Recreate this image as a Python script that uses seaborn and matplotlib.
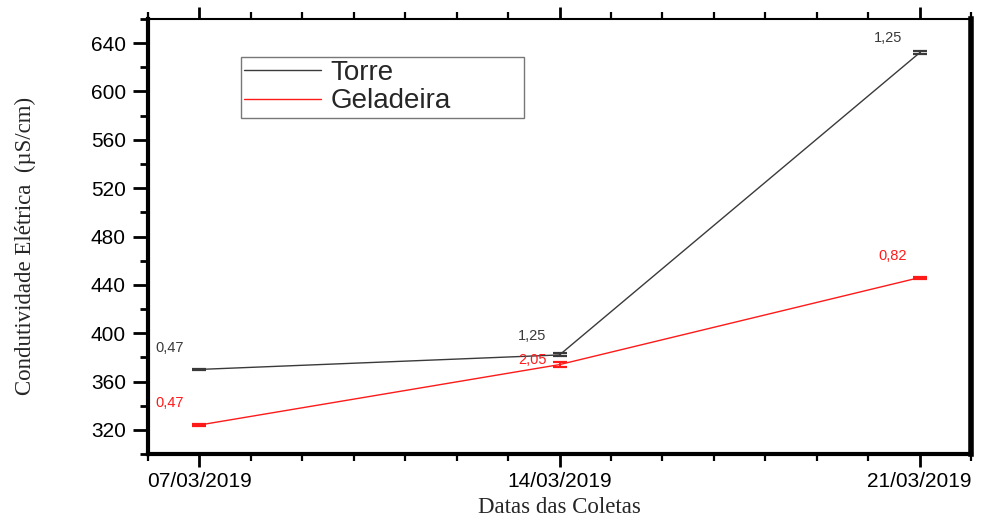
import matplotlib
matplotlib.use("Agg")
import matplotlib.pyplot as plt
import matplotlib.dates as mdates
from matplotlib.ticker import MultipleLocator
import pandas as pd
import seaborn as sns

# Sampling dates and measured electrical conductivity (µS/cm)
dates = ["07/03/2019", "14/03/2019", "21/03/2019"]
torre = [370, 382, 632]
geladeira = [324, 374, 446]
# Standard deviations shown next to each point
torre_sd = [0.47, 1.25, 1.25]
geladeira_sd = [0.47, 2.05, 0.82]
series_names = ["Torre", "Geladeira"]

x = pd.to_datetime(dates, format="%d/%m/%Y")
df = pd.DataFrame({
    "data": list(x) * 2,
    "valor": torre + geladeira,
    "sd": torre_sd + geladeira_sd,
    "serie": [series_names[0]] * 3 + [series_names[1]] * 3,
})

sns.set_style("white")
plt.rcParams["font.family"] = ["Liberation Sans", "DejaVu Sans"]

fig = plt.figure(figsize=(9.81, 5.19), dpi=100)
ax = fig.add_axes([0.1509, 0.1252, 0.8389, 0.8382])

palette = {"Torre": "#3a3a3a", "Geladeira": "#ff1a1a"}
sns.lineplot(data=df, x="data", y="valor", hue="serie", palette=palette,
             linewidth=1.0, ax=ax, legend=True)

for name in series_names:
    sub = df[df["serie"] == name]
    ax.errorbar(sub["data"], sub["valor"], yerr=sub["sd"], fmt="none",
                ecolor=palette[name], elinewidth=1.4, capsize=5, capthick=1.6)

# Value labels (standard deviation) beside each point
offsets = {
    "Torre": [(-30, 21), (-27, 19), (-31, 15)],
    "Geladeira": [(-30, 22), (-27, 5), (-27, 22)],
}
for name in series_names:
    sub = df[df["serie"] == name].reset_index(drop=True)
    for i, row in sub.iterrows():
        ax.annotate(f"{row['sd']:.2f}".replace(".", ","),
                    xy=(row["data"], row["valor"]),
                    xytext=offsets[name][i], textcoords="offset pixels",
                    ha="center", va="center", fontsize=10.5,
                    color=palette[name])

ax.set_ylim(300, 660)
ax.set_xlim(pd.Timestamp("2019-03-06"), pd.Timestamp("2019-03-22"))

ax.yaxis.set_major_locator(MultipleLocator(40))
ax.yaxis.set_minor_locator(MultipleLocator(20))
ax.set_xticks(x)
ax.xaxis.set_major_formatter(mdates.DateFormatter("%d/%m/%Y"))
ax.xaxis.set_minor_locator(mdates.DayLocator())

ax.tick_params(axis="both", which="both", direction="out", colors="black",
               labelsize=15)
ax.tick_params(axis="y", which="major", length=11, width=2, pad=5,
               left=True, right=False)
ax.tick_params(axis="y", which="minor", length=6, width=2,
               left=True, right=False)
ax.tick_params(axis="x", which="major", length=9, width=2, pad=4,
               bottom=True, top=True)
ax.tick_params(axis="x", which="minor", length=5, width=1.6,
               bottom=True, top=True)

for side, lw in [("left", 3), ("bottom", 3), ("right", 4), ("top", 1.5)]:
    ax.spines[side].set_visible(True)
    ax.spines[side].set_color("black")
    ax.spines[side].set_linewidth(lw)

ax.set_ylabel("Condutividade Elétrica  (µS/cm)", family="Liberation Serif",
              fontsize=16.5)
ax.yaxis.set_label_coords(-0.136, 0.478)
ax.set_xlabel("Datas das Coletas", family="Liberation Serif", fontsize=16.5)
ax.xaxis.set_label_coords(0.5, -0.099)

leg = ax.legend(loc="upper left", bbox_to_anchor=(0.113, 0.913, 0.344, 0.0),
                mode="expand", borderaxespad=0, fontsize=20, frameon=True,
                fancybox=False, handlelength=2.75, handletextpad=0.35,
                borderpad=0.12, labelspacing=0.08, edgecolor="#555555")
leg.get_frame().set_linewidth(1.0)
for line in leg.get_lines():
    line.set_linewidth(1.0)

fig.savefig("out.png", dpi=100)
